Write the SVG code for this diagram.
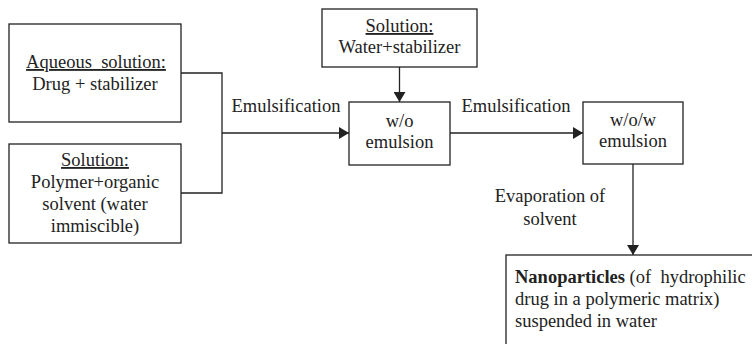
<svg xmlns="http://www.w3.org/2000/svg" width="752" height="344" viewBox="0 0 752 344">
  <style>
    .box { fill: #ffffff; stroke: #222222; stroke-width: 1.3; }
    .wire { fill: none; stroke: #222222; stroke-width: 1.3; }
    text { font-family: "Liberation Serif", "Times New Roman", serif; font-size: 18.5px; fill: #222222; }
    .c { text-anchor: middle; }
    .u { text-decoration: underline; }
  </style>
  <defs>
    <marker id="arrow" viewBox="0 0 10 12" refX="10" refY="6" markerWidth="10" markerHeight="12" markerUnits="userSpaceOnUse" orient="auto">
      <path d="M0,0 L10,6 L0,12 Z" fill="#222222"/>
    </marker>
  </defs>
  <rect width="752" height="344" fill="#ffffff"/>

  <g id="connectors">
    <polyline class="wire" points="181,73 222,73 222,193 181,193"/>
    <line class="wire" x1="222" y1="133" x2="349" y2="133" marker-end="url(#arrow)"/>
    <line class="wire" x1="399.5" y1="67" x2="399.5" y2="102" marker-end="url(#arrow)"/>
    <line class="wire" x1="450" y1="133" x2="583" y2="133" marker-end="url(#arrow)"/>
    <line class="wire" x1="633" y1="164" x2="633" y2="255" marker-end="url(#arrow)"/>
    <text x="286" y="112" class="c">Emulsification</text>
    <text x="516" y="112" class="c">Emulsification</text>
    <text x="550" y="202" class="c">Evaporation of</text>
    <text x="550" y="225" class="c">solvent</text>
  </g>

  <g id="aqueous">
    <rect class="box" x="9" y="24" width="172" height="98"/>
    <text x="96" y="68" class="c u" xml:space="preserve">Aqueous  solution:</text>
    <text x="95" y="90" class="c">Drug + stabilizer</text>
  </g>

  <g id="organic">
    <rect class="box" x="9" y="144" width="172" height="99"/>
    <text x="95" y="166" class="c u">Solution:</text>
    <text x="95" y="188" class="c">Polymer+organic</text>
    <text x="95" y="210" class="c">solvent (water</text>
    <text x="95" y="232" class="c">immiscible)</text>
  </g>

  <g id="water">
    <rect class="box" x="322" y="9" width="155" height="58"/>
    <text x="399.5" y="32" class="c u">Solution:</text>
    <text x="399.5" y="53" class="c">Water+stabilizer</text>
  </g>

  <g id="wo">
    <rect class="box" x="349" y="102" width="101" height="63"/>
    <text x="399.5" y="127" class="c">w/o</text>
    <text x="399.5" y="148" class="c">emulsion</text>
  </g>

  <g id="wow">
    <rect class="box" x="583" y="102" width="100" height="62"/>
    <text x="633" y="126" class="c">w/o/w</text>
    <text x="633" y="147" class="c">emulsion</text>
  </g>

  <g id="nanoparticles">
    <rect class="box" x="506" y="255" width="260" height="100"/>
    <text x="515" y="283" xml:space="preserve"><tspan font-weight="bold">Nanoparticles</tspan> (of  hydrophilic</text>
    <text x="515" y="305">drug in a polymeric matrix)</text>
    <text x="515" y="327">suspended in water</text>
  </g>
</svg>
